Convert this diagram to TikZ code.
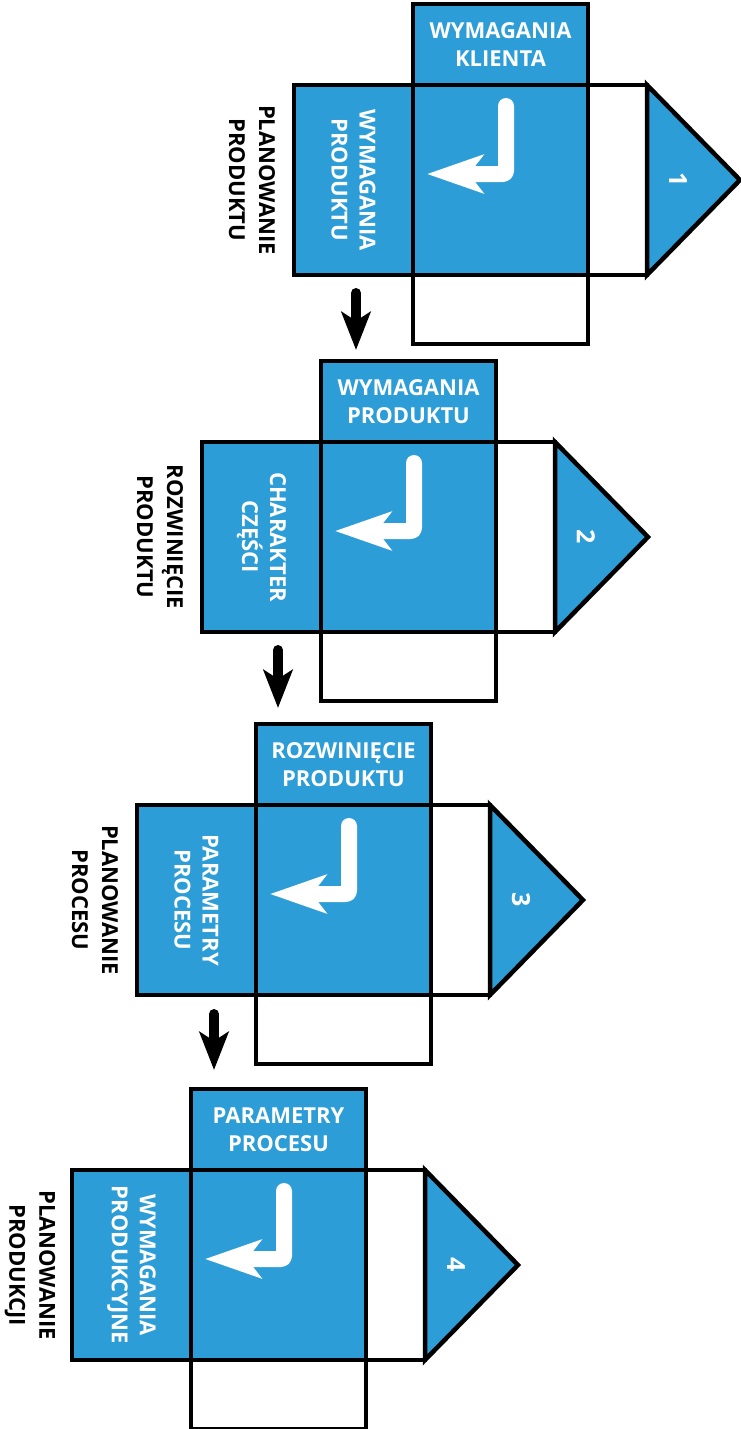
\documentclass[tikz,border=0pt]{standalone}
\usepackage{fontspec}
\setmainfont{Open Sans}
\usetikzlibrary{arrows.meta,positioning}

\definecolor{hqblue}{RGB}{45,157,215}

\tikzset{
  frame/.style={draw=black, line width=4.5pt, inner sep=0pt, outer sep=0pt},
  bluebox/.style={frame, fill=hqblue, anchor=north west},
  whitebox/.style={frame, fill=white, anchor=north west},
  boxtext/.style={text=white, align=center, inner sep=0pt,
    font=\bfseries\fontsize{22}{28}\selectfont},
  sidetext/.style={boxtext, rotate=-90},
  outertext/.style={sidetext, text=black, font=\bfseries\fontsize{22}{30}\selectfont},
  numtext/.style={text=white, rotate=-90, inner sep=0pt,
    font=\bfseries\fontsize{25}{30}\selectfont},
  hookarrow/.style={white, line width=16pt, line cap=round, line join=round,
    rounded corners=3pt, -{Stealth[length=56pt,width=38pt,inset=14pt]}},
  flow/.style={black, line width=10pt, line cap=round,
    -{Stealth[length=38pt,width=29pt,inset=9pt]}}
}

\begin{document}
\begin{tikzpicture}[x=1pt,y=-1pt]
\useasboundingbox (0,0) rectangle (740,1429);

% -----------------------------
% Four matrices, one per phase
% (\bx,\by) = top left corner of the central square
% -----------------------------
\foreach \bx/\by/\num/\toptxt/\sidetxt/\outtxt in {
    413/85/1/{WYMAGANIA\\KLIENTA}/{WYMAGANIA\\PRODUKTU}/{PLANOWANIE\\PRODUKTU},
    321/442/2/{WYMAGANIA\\PRODUKTU}/{CHARAKTER\\CZĘŚCI}/{ROZWINIĘCIE\\PRODUKTU},
    256/805/3/{ROZWINIĘCIE\\PRODUKTU}/{PARAMETRY\\PROCESU}/{PLANOWANIE\\PROCESU},
    191/1170/4/{PARAMETRY\\PROCESU}/{WYMAGANIA\\PRODUKCYJNE}/{PLANOWANIE\\PRODUKCJI}} {

  % roof: right box and triangle
  \node[whitebox, minimum width=59pt, minimum height=190pt] (right\num) at (\bx+175,\by) {};
  \draw[frame, fill=hqblue, line join=miter]
      (\bx+234,\by) -- (\bx+327,\by+95) -- (\bx+234,\by+190) -- cycle;
  \node[numtext] (num\num) at (\bx+265,\by+95) {\num};

  % bottom box
  \node[whitebox, minimum width=175pt, minimum height=69pt] (bottom\num) at (\bx,\by+190) {};

  % top and left boxes
  \node[bluebox, minimum width=175pt, minimum height=81pt] (top\num) at (\bx,\by-81) {};
  \node[boxtext] (toptext\num) at (top\num.center) {\toptxt};
  \node[bluebox, minimum width=119pt, minimum height=190pt] (side\num) at (\bx-119,\by) {};
  \node[sidetext] (sidetext\num) at (side\num.center) {\sidetxt};

  % central square with the white hook
  \node[bluebox, minimum width=175pt, minimum height=190pt] (core\num) at (\bx,\by) {};
  \draw[hookarrow] (\bx+93,\by+21) -- (\bx+93,\by+89) -- (\bx+14,\by+89);

  % phase name
  \node[outertext] (phase\num) at (\bx-161,\by+95) {\outtxt};
}

% -----------------------------
% Arrows between phases
% -----------------------------
\coordinate (from1) at (356,293);
\coordinate (to1)   at (356,350);
\coordinate (from2) at (278,650);
\coordinate (to2)   at (278,708);
\coordinate (from3) at (214,1014);
\coordinate (to3)   at (214,1070);

\foreach \i in {1,2,3}
  \draw[flow] (from\i) -- (to\i);

\end{tikzpicture}
\end{document}
